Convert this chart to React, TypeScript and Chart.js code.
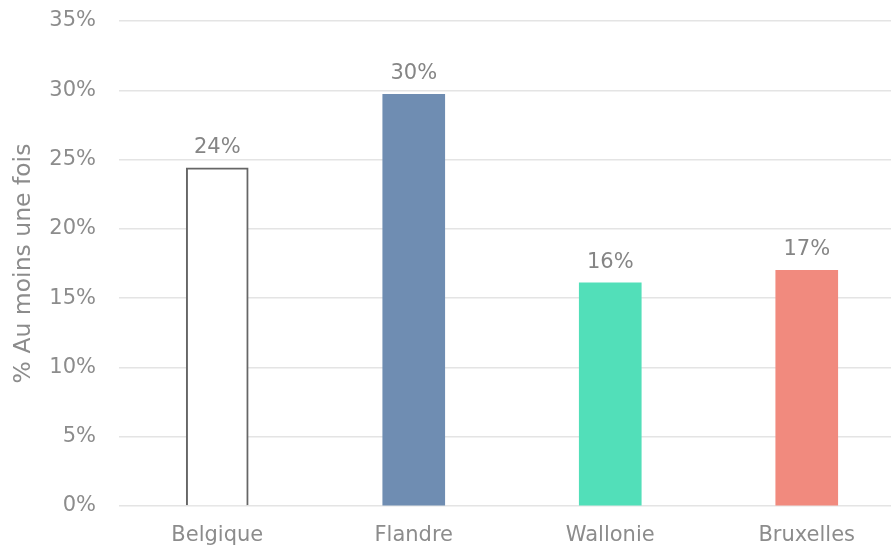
import React, { useEffect, useRef } from "react";
import { Chart, registerables } from "chart.js";

Chart.register(...registerables);

const categories = ["Belgique", "Flandre", "Wallonie", "Bruxelles"];
const values = [24.4, 29.7, 16.1, 17.0];
const fillColors = ["#FFFFFF", "#6F8DB2", "#52DFB9", "#F18A7E"];
const borderColors = ["#666666", "#6F8DB2", "#52DFB9", "#F18A7E"];
const borderWidths = [2, 0, 0, 0];
const yTitle = "% Au moins une fois";
const yMin = 0;
const yMax = 35;
const yStep = 5;

const FONT = "'DejaVu Sans', Verdana, sans-serif";

const valueLabels = {
  id: "valueLabels",
  afterDatasetsDraw(chart: any) {
    const { ctx } = chart;
    const meta = chart.getDatasetMeta(0);
    ctx.save();
    ctx.font = `21px ${FONT}`;
    ctx.fillStyle = "#858585";
    ctx.textAlign = "center";
    ctx.textBaseline = "alphabetic";
    meta.data.forEach((el: any, i: number) => {
      const v = chart.data.datasets[0].data[i] as number;
      ctx.fillText(Math.round(v) + "%", el.x, el.y - 15);
    });
    ctx.restore();
  },
};

export default function App() {
  const ref = useRef<HTMLCanvasElement | null>(null);
  useEffect(() => {
    if (!ref.current) return;
    const chart = new Chart(ref.current, {
      type: "bar",
      data: {
        labels: categories,
        datasets: [
          {
            data: values,
            backgroundColor: fillColors,
            borderColor: borderColors,
            borderWidth: borderWidths,
            borderSkipped: "bottom",
            barThickness: 62,
          },
        ],
      },
      options: {
        animation: false,
        responsive: false,
        maintainAspectRatio: false,
        layout: { padding: { top: 21, right: 0, left: 0, bottom: 0 } },
        plugins: { legend: { display: false }, tooltip: { enabled: false } },
        scales: {
          x: {
            grid: { display: false, drawTicks: false },
            border: { display: false },
            ticks: {
              color: "#8C8C8C",
              font: { family: FONT, size: 21 },
              padding: 17,
              maxRotation: 0,
            },
            afterFit(scale: any) {
              scale.height = 44;
              scale.paddingLeft = 0;
              scale.paddingRight = 0;
            },
          },
          y: {
            min: yMin,
            max: yMax,
            grid: { color: "#E4E4E4", lineWidth: 1.5, drawTicks: false },
            border: { display: false },
            ticks: {
              stepSize: yStep,
              color: "#8C8C8C",
              font: { family: FONT, size: 21 },
              padding: 23,
              callback: (v: any) => v + "%",
            },
            title: {
              display: true,
              text: yTitle,
              color: "#8C8C8C",
              font: { family: FONT, size: 23.5 },
              padding: { top: 10, bottom: 0 },
            },
            afterFit(scale: any) {
              scale.width = 119;
              scale.paddingTop = 0;
              scale.paddingBottom = 0;
            },
          },
        },
      },
      plugins: [valueLabels],
    });
    return () => chart.destroy();
  }, []);
  return (
    <div
      style={{
        position: "fixed",
        left: 0,
        top: 0,
        width: 891,
        height: 550,
        overflow: "hidden",
        background: "#fff",
      }}
    >
      <canvas ref={ref} width={905} height={550} style={{ display: "block" }} />
    </div>
  );
}
